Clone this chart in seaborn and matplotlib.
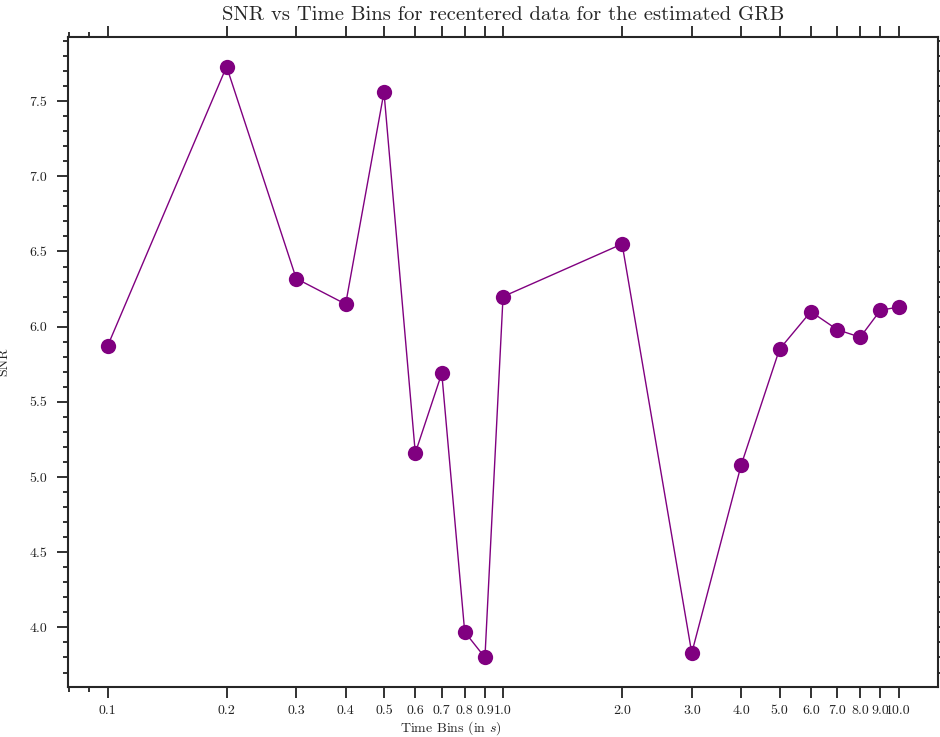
import pandas as pd
import seaborn as sns
import matplotlib.pyplot as plt

sns.set_theme(style="ticks")
plt.rcParams['font.family'] = ['cmr10', 'DejaVu Serif']
plt.rcParams['mathtext.fontset'] = 'cm'
plt.rcParams['axes.formatter.use_mathtext'] = True

# time bins (s) and the SNR
time_bins = [0.1, 0.2, 0.3, 0.4, 0.5, 0.6, 0.7, 0.8, 0.9, 1.0,
             2.0, 3.0, 4.0, 5.0, 6.0, 7.0, 8.0, 9.0, 10.0]
snr = [5.87, 7.73, 6.32, 6.15, 7.56, 5.16, 5.69, 3.97, 3.80, 6.20,
       6.55, 3.83, 5.08, 5.85, 6.10, 5.98, 5.93, 6.11, 6.13]
tick_labels = [str(t) for t in time_bins]

df = pd.DataFrame({'time': time_bins, 'snr': snr})

fig = plt.figure(figsize=(9.4, 7.37), dpi=100)
ax = fig.add_axes([0.0723, 0.0678, 0.9257, 0.882])

sns.lineplot(data=df, x='time', y='snr', ax=ax, color='purple', lw=1,
             marker='o', markersize=11, markeredgewidth=0)
ax.set_xscale('log')
ax.set_xticks(time_bins)
ax.set_xticklabels(tick_labels)
ax.yaxis.set_major_locator(plt.MultipleLocator(0.5))
ax.yaxis.set_minor_locator(plt.MultipleLocator(0.1))
ax.yaxis.set_major_formatter(plt.FormatStrFormatter('%.1f'))

for s in ax.spines.values():
    s.set_linewidth(1.5)
ax.tick_params(which='both', direction='out', top=True, right=True,
               labelsize=10, width=1.3, colors='#222222')
ax.tick_params(which='major', length=8, pad=7)
ax.tick_params(axis='x', which='major', pad=5)
ax.tick_params(which='minor', length=3.5)

ax.set_xlabel('Time Bins (in $s$)', fontsize=10)
ax.set_ylabel('SNR', fontsize=10)
ax.xaxis.set_label_coords(0.44, -0.049)
ax.yaxis.set_label_coords(-0.066, 0.5)
ax.set_title('SNR vs Time Bins for recentered data for the estimated GRB', fontsize=14.9, pad=12)

fig.savefig('out.png', dpi=100)
